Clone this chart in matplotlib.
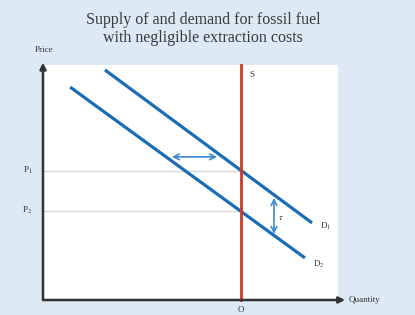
import matplotlib
matplotlib.use("Agg")
import matplotlib.pyplot as plt

plt.rcParams['font.family'] = ['Liberation Serif', 'DejaVu Serif']
plt.rcParams['mathtext.fontset'] = 'stix'

title = "Supply of and demand for fossil fuel\nwith negligible extraction costs"

# curves (quantity, price) in chart units 0..10
d1_q = [2.10, 9.12]
d1_p = [9.79, 3.28]
d2_q = [0.92, 8.88]
d2_p = [9.06, 1.79]
supply_q = 6.71
p1 = 5.5
p2 = 3.8

# shift arrows
shift_q = [4.37, 5.90]
shift_p = 6.09
tax_q = 7.83
tax_p = [4.34, 2.81]

bg = '#dde9f5'
blue = '#1a6db5'
arrow_blue = '#3d8ad0'
red = '#cc3a2c'
axis_col = '#333333'

fig = plt.figure(figsize=(4.15, 3.15), dpi=100, facecolor=bg)
ax = fig.add_axes([43/415, 15/315, 295/415, 235/315])
ax.set_xlim(0, 10)
ax.set_ylim(0, 10)
ax.set_facecolor('white')
for s in ax.spines.values():
    s.set_visible(False)
ax.set_xticks([])
ax.set_yticks([])

# price guide lines
ax.plot([0, supply_q], [p1, p1], color='#d8d8d8', lw=1)
ax.plot([0, supply_q], [p2, p2], color='#d8d8d8', lw=1)

ax.plot(d1_q, d1_p, color=blue, lw=2.3, solid_capstyle='butt')
ax.plot(d2_q, d2_p, color=blue, lw=2.3, solid_capstyle='butt')
ax.plot([supply_q, supply_q], [0, 10], color=red, lw=2, clip_on=False)

ax.annotate('', xy=(shift_q[1], shift_p), xytext=(shift_q[0], shift_p),
            arrowprops=dict(arrowstyle='<->', color=arrow_blue, lw=1.2,
                            shrinkA=0, shrinkB=0))
ax.annotate('', xy=(tax_q, tax_p[1]), xytext=(tax_q, tax_p[0]),
            arrowprops=dict(arrowstyle='<->', color=arrow_blue, lw=1.2,
                            shrinkA=0, shrinkB=0))

# axes arrows
ax.annotate('', xy=(0, 10.1), xytext=(0, 0), annotation_clip=False,
            arrowprops=dict(arrowstyle='-|>', color=axis_col, lw=1.8,
                            mutation_scale=9, shrinkA=0, shrinkB=0))
ax.annotate('', xy=(10.24, 0), xytext=(0, 0), annotation_clip=False,
            arrowprops=dict(arrowstyle='-|>', color=axis_col, lw=1.8,
                            mutation_scale=9, shrinkA=0, shrinkB=0))

fs = 6.5
ax.text(7.0, 9.57, 'S', fontsize=fs, ha='left', va='center', color='#333333')
ax.text(9.40, 3.15, r'D$_1$', fontsize=fs, ha='left', va='center', color='#333333')
ax.text(9.15, 1.53, r'D$_2$', fontsize=fs, ha='left', va='center', color='#333333')
ax.text(7.97, 3.49, r'$\tau$', fontsize=fs, ha='left', va='center', color='#333333')
ax.text(supply_q, -0.25, 'O', fontsize=fs, ha='center', va='top', color='#333333')
ax.text(-0.35, p1, r'P$_1$', fontsize=fs, ha='right', va='center', color='#333333')
ax.text(-0.35, p2, r'P$_2$', fontsize=fs, ha='right', va='center', color='#333333')
ax.text(0.05, 10.45, 'Price', fontsize=fs, ha='center', va='bottom', color='#333333')
ax.text(10.35, 0, 'Quantity', fontsize=fs, ha='left', va='center', color='#333333')

fig.text(203/415, 1 - 29/315, title, fontsize=11.5, ha='center', va='center',
         color='#3a3a3a', linespacing=1.15)

fig.savefig('out.png', dpi=100, facecolor=bg)
